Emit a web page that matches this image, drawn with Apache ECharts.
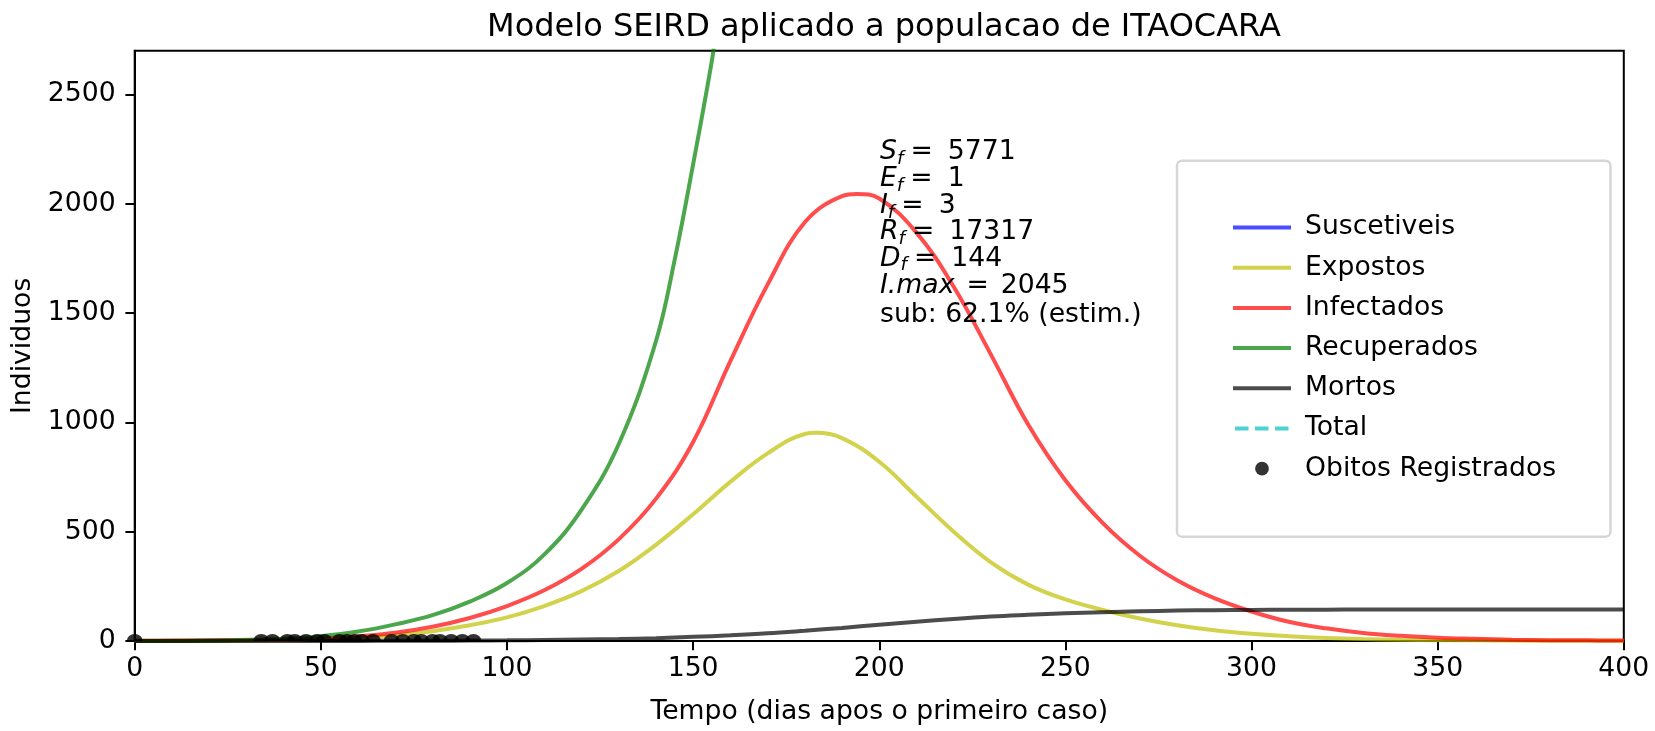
<!DOCTYPE html>
<html>
<head>
<meta charset="utf-8">
<script src="https://cdn.jsdelivr.net/npm/echarts@6/dist/echarts.min.js"></script>
<style>
html,body{margin:0;padding:0;background:#fff;}
#chart{width:1655px;height:731px;}
</style>
</head>
<body>
<div id="chart"></div>
<script>
// ---- data ----
const titleText = 'Modelo SEIRD aplicado a populacao de ITAOCARA';
const xTicks = [0, 50, 100, 150, 200, 250, 300, 350, 400];
const yTicks = [0, 500, 1000, 1500, 2000, 2500];

const daysE = [0,20,40,50,60,70,80,90,100,110,120,130,140,150,160,170,180,183,190,
  200,210,220,230,240,250,260,270,280,290,300,310,320,330,340,350,360,370,380,390,400];
const expostos = [1,2,5,9,15,26,45,72,108,160,228,320,440,580,728,858,947,952,928,
  820,660,500,360,258,190,142,103,72,49,33,22,14,9,6,4,3,2,1,1,1];

const daysI = [0,20,40,50,60,70,80,90,100,110,120,130,140,150,160,170,180,190,194,
  200,210,220,230,240,250,260,270,280,290,300,310,320,330,340,350,360,370,380,390,400];
const infectados = [1,3,7,12,22,38,65,105,160,232,330,465,650,910,1280,1630,1915,2035,2045,
  2024,1868,1620,1310,990,735,540,390,278,196,135,88,58,37,24,15,10,6,4,3,2];

const daysD = [0,20,40,50,60,70,80,90,100,110,120,130,140,150,160,170,180,190,
  200,210,220,230,240,250,260,270,280,290,300,310,320,330,340,350,360,370,380,390,400];
const mortos = [0,0,0,0.3,0.5,0.8,1.2,2,3,4.5,6.5,9,13,19,26,35,47,60,
  74,88,101,112,120,127,132,136,139,141,142,143,143.5,143.8,144,144,144,144,144,144,144];

const daysR = [0,20,40,50,60,70,80,90,100,110,120,130,140,145,150,155,160,400];
const recuperados = [0,2,10,22,43,76,118,180,265,395,600,900,1370,1740,2180,2650,3180,17317];

const daysS = [0, 400];
const suscetiveis = [23236, 5771];
const daysT = [0, 400];
const total = [23236, 23236];

const obitosDays = [0,34,37,41,43,46,49,51,55,57,59,61,64,69,72,75,77,80,82,85,88,91];
const obitosVals = [0,0,0,0,0,0,0,0,0,0,0,0,0,0,0,0,0,0,0,0,0,0];

const annot = {
  S: 5771, E: 1, I: 3, R: 17317, D: 144, Imax: 2045, sub: '62.1%'
};
// ---------------------------------------

const FONT = 'DejaVu Sans';
const FS = 26.67;
const pair = (xs, ys) => xs.map((x, i) => [x, ys[i]]);

function lineSeries(name, xs, ys, color, extra) {
  return Object.assign({
    name: name, type: 'line', data: pair(xs, ys),
    symbol: 'none', showSymbol: false, smooth: 0.4, clip: true,
    lineStyle: { color: color, width: 4 },
    itemStyle: { color: color },
    emphasis: { disabled: true }
  }, extra || {});
}

const chart = echarts.init(document.getElementById('chart'), null, { renderer: 'canvas' });

const rich = {
  it: { fontFamily: FONT, fontSize: FS, fontStyle: 'italic', fill: '#000' },
  sub: { fontFamily: FONT, fontSize: 18.5, fontStyle: 'italic', fill: '#000', padding: [13, 0, 0, 0] },
  n: { fontFamily: FONT, fontSize: FS, fill: '#000' },
  g: { fontFamily: FONT, fontSize: FS, width: 7 },
  gm: { fontFamily: FONT, fontSize: FS, width: 12 },
  h: { fontFamily: FONT, fontSize: FS, width: 15 },
  h2: { fontFamily: FONT, fontSize: FS, width: 12 }
};
const annotX = 880;
const annotLines = [
  ['{it|S}{sub|f}{g| }{n|=}{h| }{n|' + annot.S + '}', 152.5],
  ['{it|E}{sub|f}{g| }{n|=}{h| }{n|' + annot.E + '}', 179.5],
  ['{it|I}{sub|f}{g| }{n|=}{h| }{n|' + annot.I + '}', 206.5],
  ['{it|R}{sub|f}{g| }{n|=}{h| }{n|' + annot.R + '}', 232.5],
  ['{it|D}{sub|f}{g| }{n|=}{h| }{n|' + annot.D + '}', 259],
  ['{it|I.max}{gm| }{n|=}{h2| }{n|' + annot.Imax + '}', 286.5],
  ['{n|sub: ' + annot.sub + ' (estim.)}', 315.5]
];

const lineIcon = 'path://M0,0 M58,25 M0,10.5 L58,10.5 L58,14.5 L0,14.5 Z';
const dashIcon = 'path://M0,0 M58,25 M2,10.5 L15.5,10.5 L15.5,14.5 L2,14.5 Z M22,10.5 L35.5,10.5 L35.5,14.5 L22,14.5 Z M42,10.5 L55.5,10.5 L55.5,14.5 L42,14.5 Z';
const dotIcon = 'path://M0,0 M58,25 M22.15,12.5 A6.85,6.85 0 1 1 35.85,12.5 A6.85,6.85 0 1 1 22.15,12.5 Z';

const graphics = [
  {
    type: 'rect', z: 3,
    shape: { x: 1177, y: 160.7, width: 433.5, height: 376, r: 5 },
    style: { fill: '#ffffff', stroke: '#d6d6d6', lineWidth: 2.5 }
  }
].concat(annotLines.map(l => ({
  type: 'text', z: 10,
  style: {
    text: l[0], x: annotX, y: l[1], rich: rich,
    font: FS + 'px "DejaVu Sans"', fill: '#000',
    align: 'left', verticalAlign: 'middle'
  }
})));

const option = {
  animation: false,
  backgroundColor: '#ffffff',
  title: {
    text: titleText, left: 879, top: 7, textAlign: 'center',
    textStyle: { fontFamily: FONT, fontSize: 32, fontWeight: 'normal', color: '#000' }
  },
  grid: {
    left: 134.7, right: 31.2, top: 50.7, bottom: 87,
    show: true, borderColor: '#000', borderWidth: 2, backgroundColor: 'transparent',
    containLabel: false
  },
  legend: {
    orient: 'vertical', left: 1228, top: 209,
    itemWidth: 58, itemHeight: 25, itemGap: 13.2,
    selectedMode: false, z: 5,
    textStyle: { fontFamily: FONT, fontSize: FS, color: '#000', padding: [0, 0, 0, 9] },
    data: [
      { name: 'Suscetiveis', icon: lineIcon },
      { name: 'Expostos', icon: lineIcon },
      { name: 'Infectados', icon: lineIcon },
      { name: 'Recuperados', icon: lineIcon },
      { name: 'Mortos', icon: lineIcon },
      { name: 'Total', icon: dashIcon },
      { name: 'Obitos Registrados', icon: dotIcon }
    ]
  },
  xAxis: {
    type: 'value', min: 0, max: 400, interval: 50,
    name: 'Tempo (dias apos o primeiro caso)', nameLocation: 'middle', nameGap: 58,
    nameTextStyle: { fontFamily: FONT, fontSize: FS, color: '#000' },
    axisLine: { show: true, onZero: false, lineStyle: { color: '#000', width: 2 } },
    axisTick: { show: true, length: 9.3, inside: false, lineStyle: { color: '#000', width: 2 } },
    axisLabel: { fontFamily: FONT, fontSize: FS, color: '#000', margin: 15,
      customValues: xTicks, formatter: v => String(v) },
    splitLine: { show: false }
  },
  yAxis: {
    type: 'value', min: 0, max: 2700, interval: 500,
    name: 'Individuos', nameLocation: 'middle', nameGap: 90, nameRotate: 90,
    nameTextStyle: { fontFamily: FONT, fontSize: FS, color: '#000' },
    axisLine: { show: true, onZero: false, lineStyle: { color: '#000', width: 2 } },
    axisTick: { show: true, length: 9.3, inside: false, lineStyle: { color: '#000', width: 2 },
      customValues: yTicks },
    axisLabel: { fontFamily: FONT, fontSize: FS, color: '#000', margin: 19,
      customValues: yTicks, formatter: v => String(v) },
    splitLine: { show: false }
  },
  graphic: graphics,
  series: [
    lineSeries('Suscetiveis', daysS, suscetiveis, 'rgba(0,0,255,0.7)', { smooth: false }),
    lineSeries('Expostos', daysE, expostos, 'rgba(191,191,0,0.7)'),
    lineSeries('Infectados', daysI, infectados, 'rgba(255,0,0,0.7)'),
    lineSeries('Recuperados', daysR, recuperados, 'rgba(0,128,0,0.7)'),
    lineSeries('Mortos', daysD, mortos, 'rgba(0,0,0,0.7)'),
    lineSeries('Total', daysT, total, 'rgba(0,191,191,0.7)', {
      smooth: false, lineStyle: { color: 'rgba(0,191,191,0.7)', width: 4, type: [15, 6] }
    }),
    {
      name: 'Obitos Registrados', type: 'scatter', data: pair(obitosDays, obitosVals),
      symbol: 'path://M0,10 A10,10 0 0 1 20,10 Z', symbolSize: [16, 7], symbolOffset: [0, '-50%'],
      itemStyle: { color: '#000' }, z: 4, emphasis: { disabled: true }
    }
  ]
};
chart.setOption(option);
</script>
</body>
</html>
